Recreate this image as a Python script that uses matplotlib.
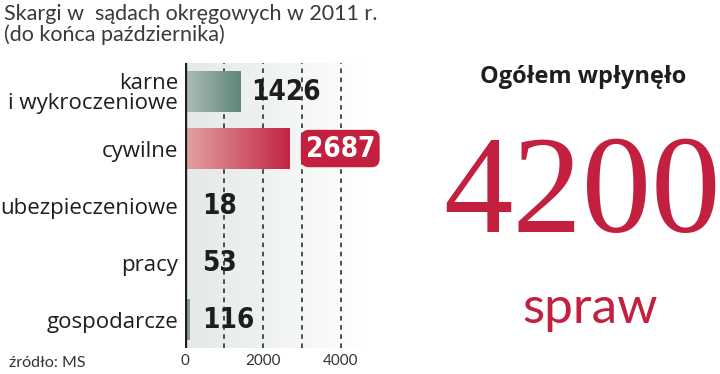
import numpy as np
import matplotlib.pyplot as plt
from matplotlib.colors import LinearSegmentedColormap

categories = ["karne\ni wykroczeniowe", "cywilne", "ubezpieczeniowe", "pracy", "gospodarcze"]
values = [1426, 2687, 18, 53, 116]
total = 4200
tick_vals = [0, 2000, 4000]
grid_vals = [1000, 2000, 3000, 4000]

red = "#c3203f"
dark = "#1e1e1e"
sans = ["Open Sans", "DejaVu Sans"]
light = ["Lato", "DejaVu Sans"]

fig = plt.figure(figsize=(7.2, 3.74), dpi=100)
ax = fig.add_axes([0.257, 0.0695, 0.254, 0.762])

xmax = 4700
ax.set_xlim(0, xmax)
ax.set_ylim(len(values) - 0.5, -0.5)

# light grey background fading to white
bg = LinearSegmentedColormap.from_list("bg", ["#e3e8e8", "#ffffff"])
ax.imshow(np.linspace(0, 1, 256).reshape(1, -1), cmap=bg, aspect="auto",
          extent=[0, xmax, len(values) - 0.5, -0.5], zorder=0)

for g in grid_vals:
    ax.axvline(g, color=dark, lw=1.1, ls=(0, (3, 3)), zorder=1)

cmaps = [
    LinearSegmentedColormap.from_list("g", ["#aebfb8", "#5f8677"]),
    LinearSegmentedColormap.from_list("r", ["#e3a3a3", "#c22444"]),
    None, None, None,
]
bars = ax.barh(range(len(values)), values, height=0.73, color="#8d9d95", zorder=2)
for b, cm, v in zip(bars, cmaps, values):
    if cm is None:
        continue
    b.set_facecolor("none")
    im = ax.imshow(np.linspace(0, 1, 256).reshape(1, -1), cmap=cm, aspect="auto",
                   extent=[0, v, b.get_y() + b.get_height(), b.get_y()], zorder=2)
    im.set_clip_path(b)

ax.set_xlim(0, xmax)
ax.set_ylim(len(values) - 0.5, -0.5)

for i, v in enumerate(values):
    x = max(v, 150) + 280
    if i == 1:
        ax.text(x + 130, i, str(v), ha="left", va="center", fontsize=20,
                fontweight="bold", family="DejaVu Sans", fontstretch="condensed",
                color="white", zorder=4,
                bbox=dict(boxstyle="round,pad=0.17,rounding_size=0.3",
                          fc=red, ec="none"))
    else:
        ax.text(x, i, str(v), ha="left", va="center", fontsize=20,
                fontweight="bold", family="DejaVu Sans", fontstretch="condensed",
                color=dark, zorder=4)

ax.axvline(0, color=dark, lw=2.4, zorder=3)
for s in ax.spines.values():
    s.set_visible(False)
ax.set_yticks(range(len(values)))
ax.set_yticklabels(categories, fontsize=16, family=sans,
                   color=dark, linespacing=0.95)
ax.set_xticks(tick_vals)
ax.set_xticklabels([str(t) for t in tick_vals], fontsize=11, family=light,
                   color="#333333")
ax.tick_params(length=0, pad=4)
ax.tick_params(axis="y", pad=5)

fig.text(0.006, 0.99, "Skargi w  sądach okręgowych w 2011 r.\n(do końca października)",
         ha="left", va="top", fontsize=15.5, family=light,
         color="#3a3a3a", linespacing=1.05)
fig.text(0.012, 0.03, "źródło: MS", ha="left", va="center", fontsize=11.5,
         family=light, color="#333333")

fig.text(0.81, 0.795, "Ogółem wpłynęło", ha="center", va="center", fontsize=17,
         fontweight="bold", family=sans, color=dark)
fig.text(0.808, 0.47, str(total), ha="center", va="center", fontsize=100,
         family=["Liberation Serif", "DejaVu Serif"], color=red)
fig.text(0.82, 0.175, "spraw", ha="center", va="center", fontsize=37,
         family=light, color=red)

fig.savefig("out.png", dpi=100)
